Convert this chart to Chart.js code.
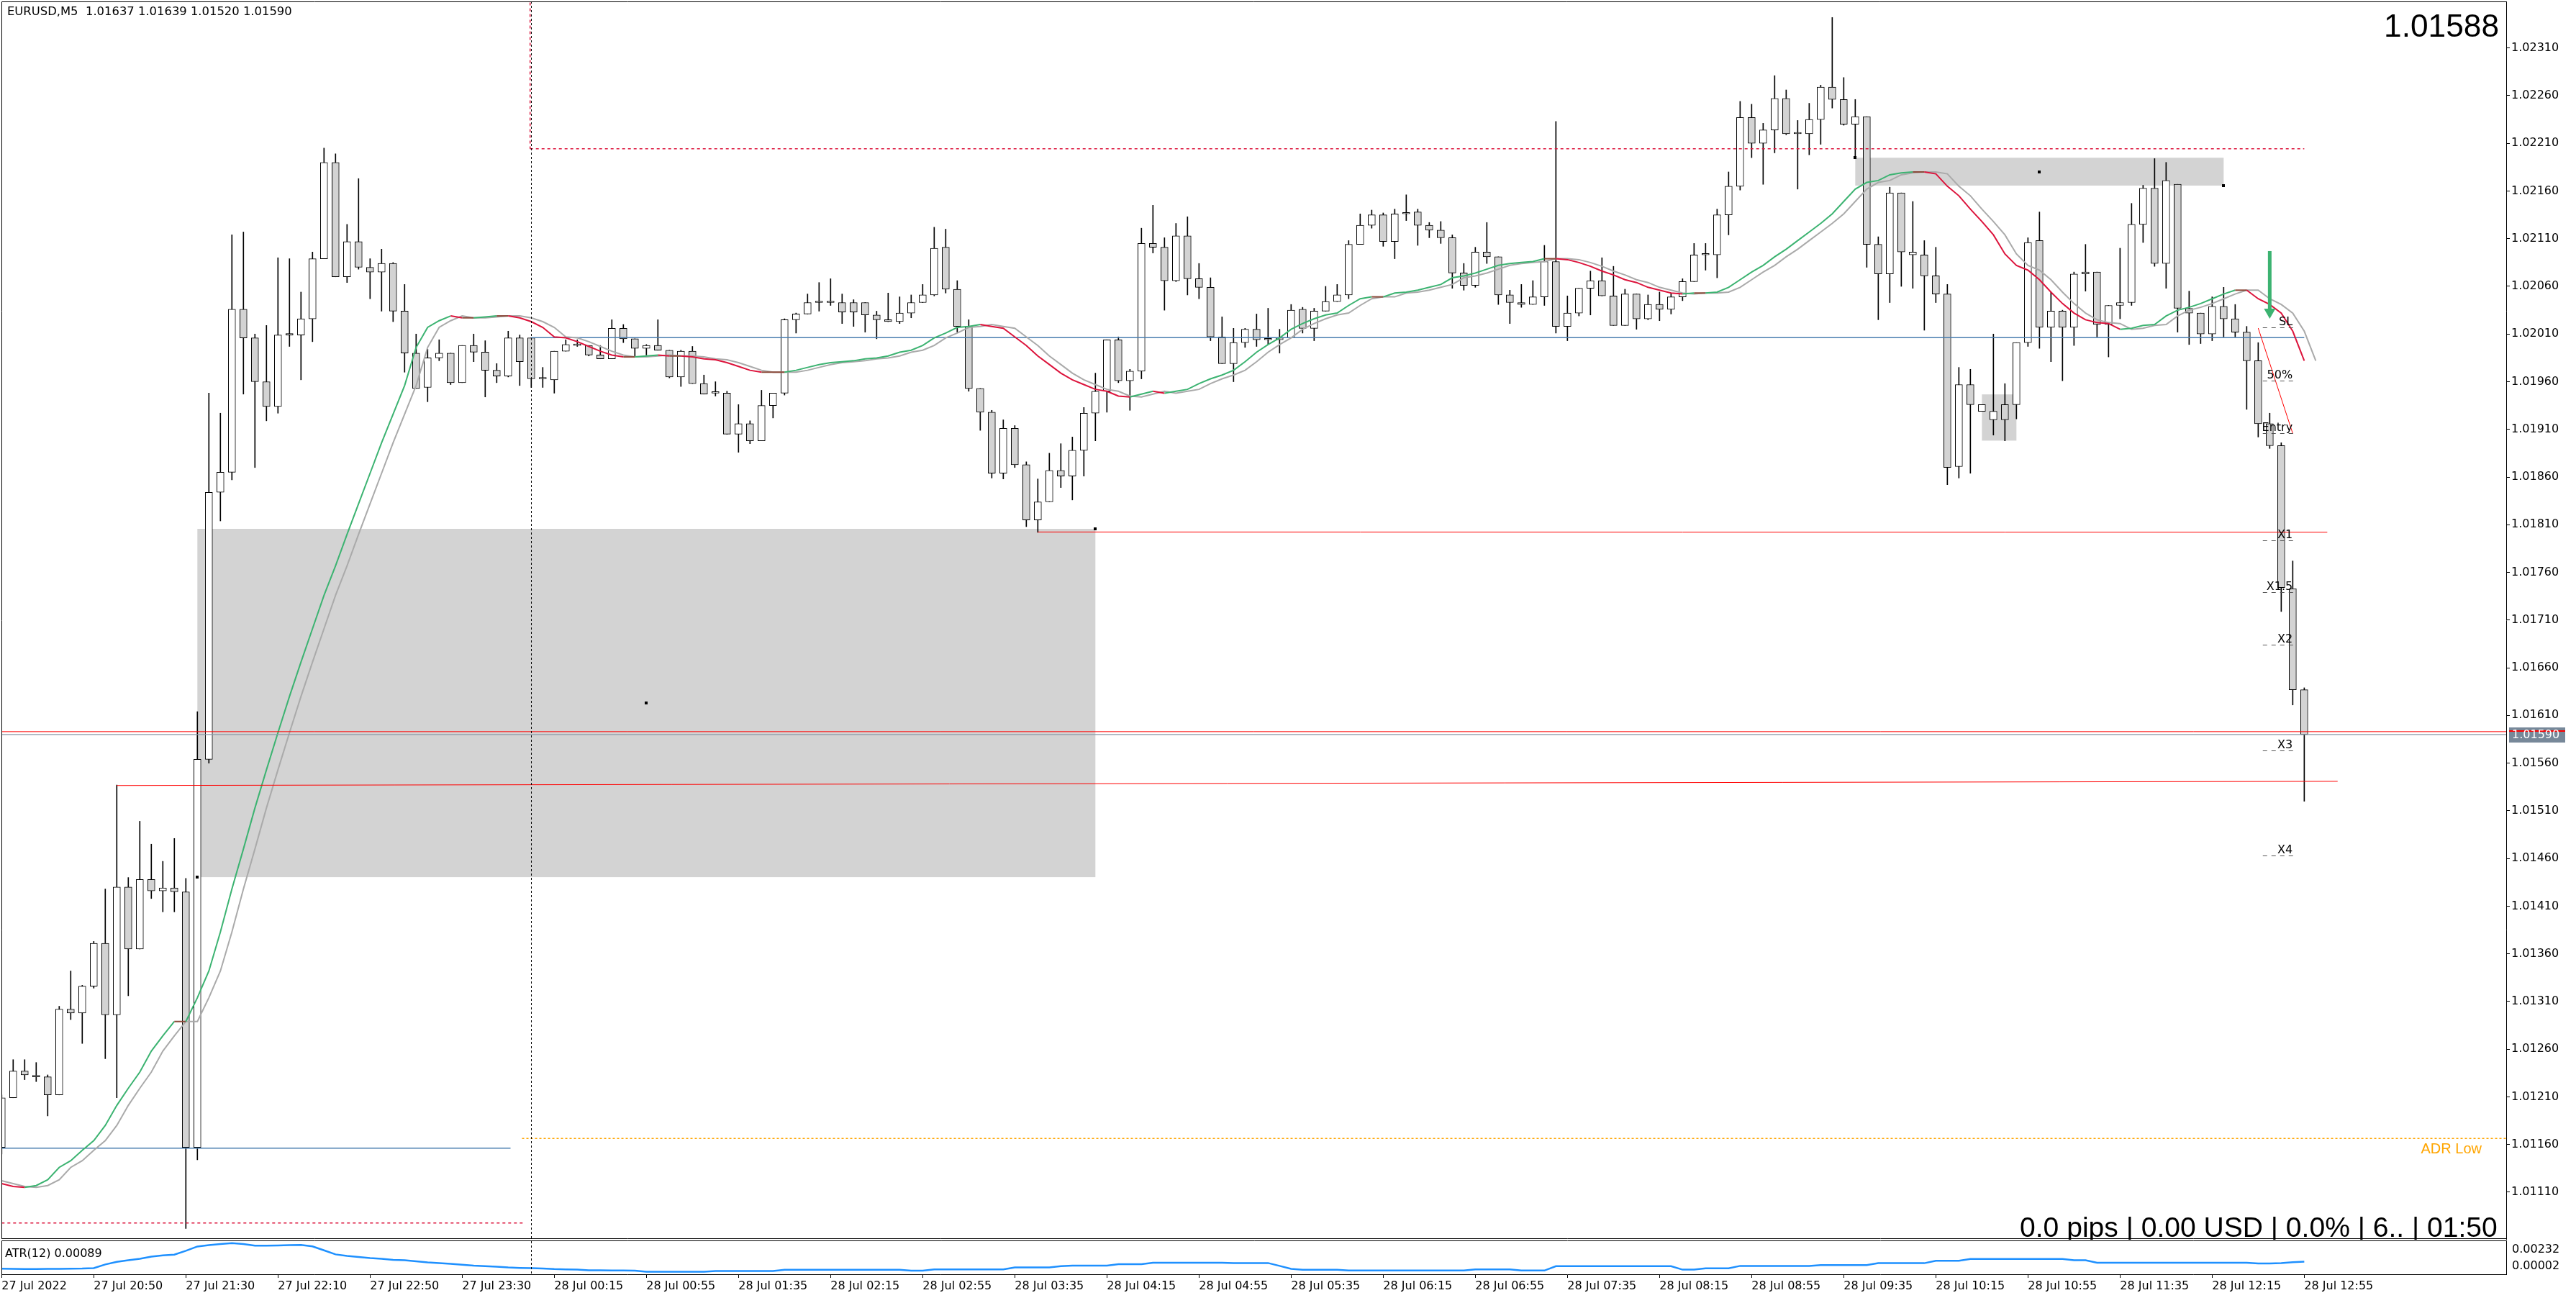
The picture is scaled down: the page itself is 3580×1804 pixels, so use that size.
<!DOCTYPE html>
<html><head><meta charset="utf-8">
<script src="https://cdn.jsdelivr.net/npm/chart.js@4.4.1/dist/chart.umd.min.js"></script>
<style>
html,body{margin:0;padding:0;background:#fff;width:3580px;height:1804px;overflow:hidden}
#main{position:absolute;left:0;top:0;width:3580px;height:1723px}
#atr{position:absolute;left:0;top:1723px;width:3580px;height:81px}
</style></head><body>
<canvas id="main" width="3580" height="1723"></canvas>
<canvas id="atr" width="3580" height="81"></canvas>
<script>
// ---------------- DATA ----------------
const SYMBOL_HEADER = "EURUSD,M5  1.01637 1.01639 1.01520 1.01590";
const BIG_PRICE = "1.01588";
const STATUS_TEXT = "0.0 pips | 0.00 USD | 0.0% | 6.. | 01:50";
const ATR_TITLE = "ATR(12) 0.00089";
const BID = 1.01590, ASK = 1.01593;

const opens = [1.01157,1.01209,1.01237,1.01231,1.01231,1.01212,1.01302,1.01298,1.01326,1.01371,
1.01296,1.01430,1.01365,1.01438,1.01426,1.01429,1.01425,1.01157,1.01564,1.01844,
1.01865,1.02036,1.02006,1.01960,1.01934,1.02009,1.02009,1.02026,1.02089,1.02190,
1.02070,1.02107,1.02080,1.02075,1.02084,1.02034,1.01990,1.01954,1.01985,1.01990,
1.01959,1.01998,1.01991,1.01972,1.01966,1.02006,1.02006,1.01963,1.01962,1.01992,
1.01999,1.01998,1.01988,1.01984,1.02016,1.02005,1.01995,1.01998,1.01993,1.01965,
1.01992,1.01958,1.01948,1.01948,1.01905,1.01916,1.01898,1.01935,1.01948,1.02025,
1.02031,1.02043,1.02043,1.02043,1.02043,1.02043,1.02030,1.02025,1.02023,1.02032,
1.02043,1.02051,1.02101,1.02057,1.02018,1.01953,1.01928,1.01864,1.01911,1.01873,
1.01815,1.01834,1.01867,1.01861,1.01888,1.01927,1.01950,1.02004,1.01961,1.01971,
1.02105,1.02101,1.02066,1.02113,1.02068,1.02059,1.02007,1.01979,1.02001,1.02015,
1.02004,1.02004,1.02006,1.02036,1.02016,1.02034,1.02044,1.02051,1.02104,1.02124,
1.02135,1.02107,1.02136,1.02138,1.02124,1.02119,1.02111,1.02074,1.02061,1.02096,
1.02091,1.02051,1.02043,1.02041,1.02049,1.02086,1.02018,1.02032,1.02058,1.02066,
1.02050,1.02019,1.02052,1.02026,1.02041,1.02036,1.02049,1.02065,1.02093,1.02093,
1.02135,1.02165,1.02237,1.02210,1.02224,1.02257,1.02220,1.02220,1.02235,1.02269,
1.02256,1.02230,1.02238,1.02104,1.02073,1.02158,1.02093,1.02093,1.02071,1.02052,
1.01871,1.01957,1.01929,1.01920,1.01936,1.01936,1.02001,1.02108,1.02017,1.02034,
1.02017,1.02073,1.02075,1.02020,1.02040,1.02043,1.02125,1.02163,1.02084,1.02167,
1.02037,1.02032,1.02010,1.02039,1.02026,1.02012,1.01982,1.01916,1.01893,1.01743,
1.01637];
const highs = [1.01212,1.01249,1.01249,1.01246,1.01233,1.01305,1.01342,1.01327,1.01373,1.01428,
1.01537,1.01440,1.01499,1.01475,1.01457,1.01481,1.01439,1.01614,1.01948,1.01927,
1.02114,1.02117,1.02010,1.02019,1.02090,1.02089,1.02054,1.02096,1.02205,1.02199,
1.02125,1.02173,1.02089,1.02099,1.02085,1.02062,1.02010,1.01994,1.02004,1.01990,
1.01998,1.02010,1.02003,1.01979,1.02013,1.02009,1.02006,1.01975,1.01992,1.02004,
1.02004,1.01998,1.01998,1.02025,1.02020,1.02005,1.01999,1.02025,1.01993,1.01993,
1.01997,1.01967,1.01960,1.01950,1.01936,1.01919,1.01951,1.01948,1.02026,1.02032,
1.02052,1.02064,1.02068,1.02052,1.02046,1.02043,1.02034,1.02053,1.02049,1.02051,
1.02062,1.02122,1.02120,1.02066,1.02025,1.01953,1.01930,1.01920,1.01914,1.01876,
1.01858,1.01885,1.01895,1.01902,1.01933,1.01969,1.02004,1.02007,1.01973,1.02121,
1.02145,1.02111,1.02126,1.02133,1.02084,1.02069,1.02028,1.02016,1.02016,1.02031,
1.02037,1.02015,1.02041,1.02038,1.02037,1.02060,1.02062,1.02108,1.02136,1.02140,
1.02137,1.02141,1.02156,1.02141,1.02127,1.02128,1.02114,1.02084,1.02101,1.02127,
1.02091,1.02056,1.02062,1.02066,1.02103,1.02233,1.02050,1.02058,1.02076,1.02090,
1.02081,1.02057,1.02052,1.02051,1.02054,1.02053,1.02068,1.02105,1.02105,1.02141,
1.02180,1.02254,1.02251,1.02231,1.02281,1.02266,1.02234,1.02252,1.02271,1.02342,
1.02279,1.02256,1.02238,1.02112,1.02164,1.02158,1.02149,1.02108,1.02101,1.02062,
1.01975,1.01973,1.01936,1.02010,1.01958,1.02001,1.02111,1.02138,1.02054,1.02035,
1.02075,1.02104,1.02075,1.02040,1.02100,1.02147,1.02166,1.02194,1.02190,1.02167,
1.02055,1.02032,1.02049,1.02059,1.02041,1.02018,1.02001,1.01927,1.01896,1.01772,
1.01639];
const lows = [1.01150,1.01209,1.01228,1.01226,1.01190,1.01212,1.01291,1.01266,1.01324,1.01250,
1.01209,1.01316,1.01365,1.01418,1.01404,1.01404,1.01072,1.01144,1.01560,1.01814,
1.01857,1.01947,1.01870,1.01919,1.01927,1.01997,1.01962,1.02002,1.02089,1.02070,
1.02064,1.02078,1.02047,1.02034,1.02023,1.01970,1.01953,1.01939,1.01982,1.01957,
1.01959,1.01981,1.01944,1.01959,1.01965,1.01956,1.01954,1.01954,1.01948,1.01992,
1.01997,1.01987,1.01984,1.01984,1.02001,1.01987,1.01988,1.01993,1.01964,1.01955,
1.01958,1.01947,1.01945,1.01905,1.01886,1.01895,1.01898,1.01922,1.01946,1.02011,
1.02031,1.02034,1.02040,1.02021,1.02018,1.02012,1.02005,1.02023,1.02021,1.02027,
1.02043,1.02050,1.02053,1.02012,1.01950,1.01909,1.01859,1.01858,1.01870,1.01808,
1.01802,1.01834,1.01849,1.01836,1.01861,1.01898,1.01928,1.01959,1.01930,1.01963,
1.02095,1.02035,1.02065,1.02051,1.02047,1.02003,1.01979,1.01960,1.01996,1.01997,
1.01999,1.01990,1.02006,1.02011,1.02003,1.02034,1.02044,1.02047,1.02104,1.02121,
1.02102,1.02089,1.02129,1.02103,1.02111,1.02105,1.02058,1.02056,1.02059,1.02084,
1.02041,1.02021,1.02038,1.02041,1.02040,1.02011,1.02003,1.02029,1.02030,1.02050,
1.02019,1.02019,1.02015,1.02025,1.02024,1.02031,1.02045,1.02065,1.02077,1.02069,
1.02114,1.02161,1.02195,1.02167,1.02200,1.02219,1.02162,1.02198,1.02209,1.02247,
1.02229,1.02195,1.02080,1.02025,1.02043,1.02060,1.02058,1.02014,1.02043,1.01852,
1.01859,1.01864,1.01929,1.01904,1.01898,1.01921,1.01997,1.01995,1.01981,1.01961,
1.01998,1.02055,1.02007,1.01986,1.02026,1.02040,1.02106,1.02081,1.02058,1.02012,
1.01999,1.02000,1.02003,1.02007,1.02007,1.01931,1.01902,1.01890,1.01719,1.01621,
1.01520];
const closes = [1.01209,1.01237,1.01233,1.01231,1.01212,1.01302,1.01298,1.01326,1.01371,1.01296,
1.01430,1.01365,1.01438,1.01426,1.01429,1.01425,1.01157,1.01564,1.01844,1.01865,
1.02036,1.02006,1.01960,1.01934,1.02009,1.02009,1.02026,1.02089,1.02190,1.02070,
1.02107,1.02080,1.02075,1.02084,1.02034,1.01990,1.01953,1.01985,1.01990,1.01959,
1.01998,1.01991,1.01972,1.01966,1.02006,1.01981,1.01963,1.01963,1.01992,1.01999,
1.01998,1.01988,1.01984,1.02016,1.02005,1.01995,1.01998,1.01993,1.01965,1.01992,
1.01958,1.01947,1.01948,1.01905,1.01916,1.01898,1.01935,1.01948,1.02025,1.02031,
1.02043,1.02043,1.02043,1.02033,1.02033,1.02030,1.02025,1.02023,1.02032,1.02043,
1.02051,1.02100,1.02057,1.02018,1.01953,1.01928,1.01864,1.01911,1.01873,1.01815,
1.01834,1.01867,1.01861,1.01888,1.01927,1.01950,1.02004,1.01961,1.01971,1.02105,
1.02101,1.02066,1.02113,1.02068,1.02059,1.02007,1.01979,1.02001,1.02015,1.02004,
1.02004,1.02006,1.02035,1.02016,1.02034,1.02044,1.02051,1.02104,1.02124,1.02135,
1.02107,1.02136,1.02136,1.02124,1.02119,1.02111,1.02074,1.02061,1.02096,1.02091,
1.02051,1.02043,1.02041,1.02049,1.02086,1.02018,1.02032,1.02058,1.02066,1.02050,
1.02019,1.02052,1.02026,1.02041,1.02036,1.02049,1.02065,1.02093,1.02093,1.02135,
1.02165,1.02237,1.02210,1.02224,1.02257,1.02220,1.02220,1.02235,1.02269,1.02256,
1.02230,1.02238,1.02104,1.02073,1.02158,1.02096,1.02096,1.02071,1.02052,1.01870,
1.01957,1.01936,1.01936,1.01929,1.01920,1.02001,1.02106,1.02017,1.02034,1.02017,
1.02073,1.02075,1.02020,1.02040,1.02043,1.02125,1.02163,1.02084,1.02171,1.02037,
1.02032,1.02010,1.02039,1.02026,1.02012,1.01982,1.01916,1.01893,1.01744,1.01637,
1.01590];

// coloured moving average (per bar) and the grey moving average (drawn one bar further right)
const maColour = [1.01119,1.01116,1.01115,1.01117,1.01123,1.01136,1.01143,1.01154,1.01164,1.01180,
1.01201,1.01219,1.01236,1.01258,1.01274,1.01289,1.01289,1.01314,1.01342,1.01383,
1.01428,1.01470,1.01513,1.01553,1.01592,1.01630,1.01666,1.01701,1.01736,1.01767,
1.01800,1.01832,1.01864,1.01896,1.01926,1.01956,1.01996,1.02017,1.02024,1.02029,
1.02027,1.02027,1.02028,1.02029,1.02029,1.02027,1.02023,1.02017,1.02007,1.02006,
1.02002,1.01997,1.01992,1.01988,1.01986,1.01986,1.01987,1.01988,1.01987,1.01987,
1.01986,1.01984,1.01983,1.01980,1.01976,1.01972,1.01970,1.01970,1.01970,1.01972,
1.01975,1.01978,1.01980,1.01981,1.01982,1.01984,1.01985,1.01987,1.01991,1.01993,
1.01998,1.02006,1.02011,1.02017,1.02018,1.02020,1.02018,1.02016,1.02007,1.01998,
1.01987,1.01978,1.01969,1.01962,1.01957,1.01952,1.01950,1.01945,1.01944,1.01947,
1.01950,1.01948,1.01950,1.01952,1.01958,1.01963,1.01967,1.01972,1.01981,1.01991,
1.01999,1.02006,1.02015,1.02021,1.02026,1.02030,1.02032,1.02040,1.02047,1.02049,
1.02049,1.02053,1.02054,1.02056,1.02059,1.02062,1.02069,1.02071,1.02074,1.02078,
1.02082,1.02084,1.02085,1.02086,1.02089,1.02089,1.02088,1.02085,1.02081,1.02076,
1.02072,1.02067,1.02064,1.02059,1.02056,1.02053,1.02052,1.02053,1.02053,1.02054,
1.02059,1.02067,1.02075,1.02082,1.02091,1.02099,1.02108,1.02117,1.02126,1.02136,
1.02149,1.02162,1.02169,1.02171,1.02177,1.02179,1.02180,1.02180,1.02178,1.02165,
1.02155,1.02141,1.02128,1.02114,1.02094,1.02082,1.02077,1.02067,1.02054,1.02042,
1.02032,1.02025,1.02022,1.02021,1.02015,1.02016,1.02019,1.02020,1.02029,1.02035,
1.02038,1.02042,1.02047,1.02052,1.02056,1.02056,1.02047,1.02041,1.02032,1.02013,
1.01982];
const maGrey = [1.01122,1.01119,1.01116,1.01115,1.01117,1.01123,1.01136,1.01143,1.01154,1.01164,1.01180,
1.01201,1.01219,1.01236,1.01258,1.01274,1.01289,1.01289,1.01314,1.01342,1.01383,
1.01428,1.01470,1.01513,1.01553,1.01592,1.01630,1.01666,1.01701,1.01736,1.01767,
1.01800,1.01832,1.01864,1.01896,1.01926,1.01956,1.01996,1.02017,1.02024,1.02029,
1.02027,1.02027,1.02028,1.02029,1.02029,1.02027,1.02023,1.02017,1.02007,1.02006,
1.02002,1.01997,1.01992,1.01988,1.01986,1.01986,1.01987,1.01988,1.01987,1.01987,
1.01986,1.01984,1.01983,1.01980,1.01976,1.01972,1.01970,1.01970,1.01970,1.01972,
1.01975,1.01978,1.01980,1.01981,1.01982,1.01984,1.01985,1.01987,1.01991,1.01993,
1.01998,1.02006,1.02011,1.02017,1.02018,1.02020,1.02018,1.02016,1.02007,1.01998,
1.01987,1.01978,1.01969,1.01962,1.01957,1.01952,1.01950,1.01945,1.01944,1.01947,
1.01950,1.01948,1.01950,1.01952,1.01958,1.01963,1.01967,1.01972,1.01981,1.01991,
1.01999,1.02006,1.02015,1.02021,1.02026,1.02030,1.02032,1.02040,1.02047,1.02049,
1.02049,1.02053,1.02054,1.02056,1.02059,1.02062,1.02069,1.02071,1.02074,1.02078,
1.02082,1.02084,1.02085,1.02086,1.02089,1.02089,1.02088,1.02085,1.02081,1.02076,
1.02072,1.02067,1.02064,1.02059,1.02056,1.02053,1.02052,1.02053,1.02053,1.02054,
1.02059,1.02067,1.02075,1.02082,1.02091,1.02099,1.02108,1.02117,1.02126,1.02136,
1.02149,1.02162,1.02169,1.02171,1.02177,1.02179,1.02180,1.02180,1.02178,1.02165,
1.02155,1.02141,1.02128,1.02114,1.02094,1.02082,1.02077,1.02067,1.02054,1.02042,
1.02032,1.02025,1.02022,1.02021,1.02015,1.02016,1.02019,1.02020,1.02029,1.02035,
1.02038,1.02042,1.02047,1.02052,1.02056,1.02056,1.02047,1.02041,1.02032,1.02013,
1.01982];

const atrValues = [0.00041,0.00039,0.00038,0.00038,0.00039,0.00040,0.00041,0.00042,0.00045,0.00070,
0.00088,0.00100,0.00110,0.00125,0.00133,0.00138,0.00165,0.00195,0.00205,0.00212,
0.00218,0.00212,0.00201,0.00201,0.00202,0.00204,0.00206,0.00196,0.00168,0.00140,
0.00130,0.00122,0.00114,0.00110,0.00102,0.00099,0.00092,0.00085,0.00080,0.00075,
0.00068,0.00062,0.00058,0.00054,0.00049,0.00046,0.00044,0.00042,0.00038,0.00036,
0.00034,0.00030,0.00029,0.00028,0.00028,0.00027,0.00020,0.00019,0.00019,0.00019,
0.00019,0.00020,0.00024,0.00024,0.00024,0.00024,0.00024,0.00024,0.00033,0.00033,
0.00033,0.00033,0.00033,0.00033,0.00033,0.00033,0.00033,0.00033,0.00033,0.00027,
0.00027,0.00036,0.00036,0.00036,0.00036,0.00036,0.00036,0.00036,0.00050,0.00050,
0.00050,0.00050,0.00058,0.00062,0.00062,0.00062,0.00062,0.00072,0.00072,0.00072,
0.00082,0.00082,0.00082,0.00082,0.00082,0.00082,0.00082,0.00080,0.00080,0.00080,
0.00080,0.00060,0.00040,0.00033,0.00033,0.00033,0.00033,0.00028,0.00028,0.00028,
0.00028,0.00028,0.00028,0.00028,0.00028,0.00028,0.00028,0.00028,0.00036,0.00036,
0.00036,0.00036,0.00028,0.00028,0.00028,0.00058,0.00058,0.00058,0.00058,0.00058,
0.00058,0.00058,0.00058,0.00058,0.00058,0.00058,0.00034,0.00034,0.00043,0.00043,
0.00043,0.00060,0.00060,0.00060,0.00060,0.00060,0.00060,0.00060,0.00066,0.00066,
0.00066,0.00066,0.00066,0.00079,0.00079,0.00079,0.00079,0.00079,0.00096,0.00096,
0.00096,0.00108,0.00108,0.00108,0.00108,0.00108,0.00108,0.00108,0.00108,0.00108,
0.00099,0.00099,0.00082,0.00082,0.00082,0.00082,0.00082,0.00082,0.00082,0.00082,
0.00082,0.00082,0.00082,0.00082,0.00082,0.00082,0.00077,0.00077,0.00080,0.00086,
0.00089];

const priceTickLabels = ["1.01110","1.01160","1.01210","1.01260","1.01310","1.01360","1.01410","1.01460",
"1.01510","1.01560","1.01610","1.01660","1.01710","1.01760","1.01810","1.01860","1.01910","1.01960",
"1.02010","1.02060","1.02110","1.02160","1.02210","1.02260","1.02310"];
const atrTickLabels = ["0.00232","0.00002"];
const timeTickBars = [0,8,16,24,32,40,48,56,64,72,80,88,96,104,112,120,128,136,144,152,160,168,176,184,192,200];
const timeTickLabels = ["27 Jul 2022","27 Jul 20:50","27 Jul 21:30","27 Jul 22:10","27 Jul 22:50","27 Jul 23:30",
"28 Jul 00:15","28 Jul 00:55","28 Jul 01:35","28 Jul 02:15","28 Jul 02:55","28 Jul 03:35","28 Jul 04:15",
"28 Jul 04:55","28 Jul 05:35","28 Jul 06:15","28 Jul 06:55","28 Jul 07:35","28 Jul 08:15","28 Jul 08:55",
"28 Jul 09:35","28 Jul 10:15","28 Jul 10:55","28 Jul 11:35","28 Jul 12:15","28 Jul 12:55"];

// zones (bar from, bar to, high price, low price)
const zoneFrom = [17, 161, 172];
const zoneTo   = [95, 193, 175];
const zoneHigh = [1.018057, 1.021949, 1.019467];
const zoneLow  = [1.014404, 1.021657, 1.018982];

// horizontal / trend lines: [bar, price] pairs
const dayOpenLine   = [[46, 1.020062], [200, 1.020062]];
const prevOpenLine  = [[-1, 1.011561], [44.2, 1.011561]];
const askLine       = [[-1, 1.01593], [220, 1.01593]];
const bidLine       = [[-1, 1.01590], [220, 1.01590]];
const trendLine     = [[10, 1.015365], [202.9, 1.015409]];
const supportLine   = [[90, 1.018024], [202, 1.018022]];
const dayHighLine   = [[45.9, 1.022043], [200, 1.022043]];
const dayHighDrop   = [[45.9, 1.0240], [45.9, 1.022043]];
const dayLowLine    = [[-1, 1.010777], [45.3, 1.010777]];
const adrLowLine    = [[45.2, 1.011664], [220, 1.011664]];
const entryDiagonal = [[196, 1.020162], [199, 1.019057]];

const separatorBar = 46;
const levelNames  = ["SL","50%","Entry","X1","X1.5","X2","X3","X4"];
const levelPrices = [1.02017,1.01961,1.01906,1.01794,1.01739,1.01684,1.01573,1.01463];
const arrowBar = 197, arrowTop = 1.02097, arrowTip = 1.02026;

// ---------------- CHARTS ----------------
const X_MIN = -0.01875, X_MAX = 217.54;
const Y_MIN = 1.0106091, Y_MAX = 1.0235882;
const FONT = "'DejaVu Sans', sans-serif";
Chart.defaults.font.family = FONT;

const idx = opens.map((_, i) => i);
const toXY = arr => arr.map(p => ({x: p[0], y: p[1]}));
function lineDs(pts, color, width, dash, order) {
  return {type: 'line', data: toXY(pts), borderColor: color, borderWidth: width, borderDash: dash || [],
          pointRadius: 0, fill: false, tension: 0, order: order || 3};
}

function fitFont(ctx, text, family, targetW) {
  ctx.font = `100px ${family}`;
  const w = ctx.measureText(text).width;
  ctx.font = `${(100 * targetW / w).toFixed(2)}px ${family}`;
}

const mainOverlay = {
  id: 'mainOverlay',
  beforeDatasetsDraw(chart) {
    const {ctx, chartArea: a, scales: {x, y}} = chart;
    ctx.save();
    ctx.beginPath(); ctx.rect(a.left, a.top, a.right - a.left, a.bottom - a.top); ctx.clip();
    ctx.fillStyle = '#d3d3d3';
    for (let k = 0; k < zoneFrom.length; k++) {
      const x0 = x.getPixelForValue(zoneFrom[k]), x1 = x.getPixelForValue(zoneTo[k]);
      const y0 = y.getPixelForValue(zoneHigh[k]), y1 = y.getPixelForValue(zoneLow[k]);
      ctx.fillRect(x0, y0, x1 - x0, y1 - y0);
    }
    ctx.restore();
  },
  afterDatasetsDraw(chart) {
    const {ctx, chartArea: a, scales: {x, y}} = chart;
    ctx.save();
    ctx.fillStyle = '#000';
    const dot = (b, p) => ctx.fillRect(Math.round(x.getPixelForValue(b)) - 2, Math.round(y.getPixelForValue(p)) - 2, 4, 4);
    dot(zoneFrom[0], zoneLow[0]); dot(zoneTo[0], zoneHigh[0]);
    dot((zoneFrom[0] + zoneTo[0]) / 2, (zoneHigh[0] + zoneLow[0]) / 2);
    dot(zoneFrom[1], zoneHigh[1]); dot(zoneTo[1], zoneLow[1]);
    dot((zoneFrom[1] + zoneTo[1]) / 2, (zoneHigh[1] + zoneLow[1]) / 2);
    const sx = Math.round(x.getPixelForValue(separatorBar)) + 0.5;
    ctx.strokeStyle = '#000'; ctx.lineWidth = 1; ctx.setLineDash([3, 3]);
    ctx.beginPath(); ctx.moveTo(sx, a.top); ctx.lineTo(sx, a.bottom); ctx.stroke();
    ctx.setLineDash([6, 6]); ctx.strokeStyle = '#555';
    ctx.font = `16px ${FONT}`; ctx.fillStyle = '#000'; ctx.textAlign = 'right'; ctx.textBaseline = 'alphabetic';
    const lx0 = x.getPixelForValue(196.4), lx1 = x.getPixelForValue(199.05);
    levelPrices.forEach((p, k) => {
      const ly = Math.round(y.getPixelForValue(p)) + 0.5;
      ctx.beginPath(); ctx.moveTo(lx0, ly); ctx.lineTo(lx1, ly); ctx.stroke();
      ctx.fillText(levelNames[k], lx1 - 1, ly - 4);
    });
    ctx.setLineDash([]);
    const ax = x.getPixelForValue(arrowBar), ay0 = y.getPixelForValue(arrowTop), ay1 = y.getPixelForValue(arrowTip);
    ctx.fillStyle = '#3cb371';
    ctx.fillRect(ax - 2.5, ay0, 5, ay1 - ay0 - 13);
    ctx.beginPath(); ctx.moveTo(ax - 8, ay1 - 14); ctx.lineTo(ax + 8, ay1 - 14); ctx.lineTo(ax, ay1); ctx.closePath(); ctx.fill();
    ctx.restore();
  },
  afterDraw(chart) {
    const {ctx, chartArea: a, scales: {y}} = chart;
    ctx.save();
    ctx.strokeStyle = '#000'; ctx.lineWidth = 1;
    ctx.beginPath();
    ctx.moveTo(a.left + 0.5, a.bottom); ctx.lineTo(a.left + 0.5, a.top + 0.5); ctx.lineTo(a.right, a.top + 0.5);
    ctx.moveTo(a.left, a.bottom - 0.5); ctx.lineTo(a.right + 1, a.bottom - 0.5);
    ctx.stroke();
    const by = y.getPixelForValue(BID), ay = y.getPixelForValue(ASK);
    ctx.fillStyle = '#778899'; ctx.fillRect(a.right + 4, Math.round(by) - 10, 78, 21);
    ctx.fillStyle = '#ff0000'; ctx.fillRect(a.right + 4, Math.round(ay) - 2, 78, 2);
    ctx.fillStyle = '#ffffff'; ctx.font = `16px ${FONT}`; ctx.textAlign = 'left'; ctx.textBaseline = 'middle';
    ctx.fillText(BID.toFixed(5), a.right + 8, Math.round(by) + 1);
    ctx.fillStyle = '#000'; ctx.textBaseline = 'alphabetic'; ctx.textAlign = 'left';
    fitFont(ctx, SYMBOL_HEADER, FONT, 396);
    ctx.fillText(SYMBOL_HEADER, 10, 21);
    fitFont(ctx, BIG_PRICE, "'Liberation Sans', Arial, sans-serif", 160);
    ctx.textAlign = 'right'; ctx.fillText(BIG_PRICE, 3473, 51);
    fitFont(ctx, STATUS_TEXT, "'Liberation Sans', Arial, sans-serif", 664);
    ctx.textAlign = 'left'; ctx.fillText(STATUS_TEXT, 2807, 1719);
    ctx.fillStyle = '#ffa500'; ctx.font = `20px 'Liberation Sans', Arial, sans-serif`; ctx.textAlign = 'right';
    ctx.fillText('ADR Low', 3449, y.getPixelForValue(adrLowLine[0][1]) + 21);
    ctx.restore();
  }
};

const maColourSeg = c => {
  const d = c.p1.parsed.y - c.p0.parsed.y;
  return d > 0.000004 ? '#3cb371' : (d < -0.000004 ? '#dc143c' : '#8b4a3a');
};

new Chart(document.getElementById('main'), {
  type: 'bar',
  data: {
    datasets: [
      {type: 'bar', data: idx.map(i => ({x: i, y: [lows[i], highs[i]]})), backgroundColor: '#000', borderWidth: 0,
       barThickness: 1, grouped: false, order: 20},
      {type: 'bar', data: idx.map(i => ({x: i, y: [opens[i], closes[i]]})),
       backgroundColor: idx.map(i => closes[i] > opens[i] ? '#ffffff' : '#d3d3d3'),
       borderColor: '#000', borderWidth: 1, borderSkipped: false, barThickness: 10, minBarLength: 2,
       grouped: false, order: 19},
      lineDs(dayOpenLine, '#4a7fb0', 1.5, null, 6),
      lineDs(prevOpenLine, '#4a7fb0', 1.5, null, 6),
      lineDs(dayHighLine, '#dc143c', 1.5, [4, 4], 6),
      lineDs(dayHighDrop, '#dc143c', 1.5, [4, 4], 6),
      lineDs(dayLowLine, '#dc143c', 1.5, [4, 4], 6),
      lineDs(adrLowLine, '#ffa500', 1.5, [3, 3], 6),
      {type: 'line', data: maGrey.map((v, i) => ({x: i, y: v})), borderColor: '#aaaaaa', borderWidth: 2,
       pointRadius: 0, fill: false, tension: 0, order: 5},
      {type: 'line', data: maColour.map((v, i) => ({x: i, y: v})), borderColor: '#3cb371', borderWidth: 2,
       segment: {borderColor: maColourSeg}, pointRadius: 0, fill: false, tension: 0, order: 4},
      lineDs(trendLine, '#ff0000', 1, null, 3),
      lineDs(supportLine, '#ff0000', 1, null, 3),
      lineDs(entryDiagonal, '#ff0000', 1, null, 3),
      lineDs(bidLine, '#8c9aa8', 1.2, null, 2),
      lineDs(askLine, '#ff0000', 1, null, 2)
    ]
  },
  options: {
    responsive: false, animation: false, devicePixelRatio: 1, events: [],
    layout: {padding: {left: 2, top: 2, right: 0, bottom: 1}},
    plugins: {legend: {display: false}, tooltip: {enabled: false}, title: {display: false}},
    scales: {
      x: {type: 'linear', display: false, min: X_MIN, max: X_MAX, offset: false, grid: {display: false}},
      y: {type: 'linear', position: 'right', min: Y_MIN, max: Y_MAX,
          afterBuildTicks: s => { s.ticks = priceTickLabels.map(t => ({value: parseFloat(t)})); },
          afterFit: s => { s.width = 97; s.paddingTop = 0; s.paddingBottom = 0; },
          ticks: {callback: v => v.toFixed(5), font: {family: FONT, size: 16}, color: '#000', padding: 2,
                  autoSkip: false, crossAlign: 'near'},
          grid: {drawOnChartArea: false, drawTicks: true, tickLength: 5, tickColor: '#000', tickWidth: 1},
          border: {display: true, color: '#000', width: 1}}
    }
  },
  plugins: [mainOverlay]
});

const atrOverlay = {
  id: 'atrOverlay',
  afterDraw(chart) {
    const {ctx, chartArea: a, scales: {x}} = chart;
    ctx.save();
    ctx.strokeStyle = '#000'; ctx.lineWidth = 1;
    ctx.beginPath();
    ctx.moveTo(a.left + 0.5, a.bottom); ctx.lineTo(a.left + 0.5, 1.5); ctx.lineTo(a.right + 1, 1.5);
    ctx.stroke();
    const sx = Math.round(x.getPixelForValue(separatorBar)) + 0.5;
    ctx.setLineDash([3, 3]);
    ctx.beginPath(); ctx.moveTo(sx, 2); ctx.lineTo(sx, a.bottom); ctx.stroke();
    ctx.setLineDash([]);
    ctx.fillStyle = '#000'; ctx.font = `16px ${FONT}`; ctx.textAlign = 'left'; ctx.textBaseline = 'alphabetic';
    ctx.fillText(ATR_TITLE, 7, 24);
    ctx.fillText(atrTickLabels[0], a.right + 8, 18);
    ctx.fillText(atrTickLabels[1], a.right + 8, 41);
    ctx.restore();
  }
};

new Chart(document.getElementById('atr'), {
  type: 'line',
  data: {datasets: [{data: atrValues.map((v, i) => ({x: i, y: v})), borderColor: '#1e90ff', borderWidth: 2.5,
                     pointRadius: 0, fill: false, tension: 0}]},
  options: {
    responsive: false, animation: false, devicePixelRatio: 1, events: [],
    layout: {padding: {left: 2, top: 2, right: 0, bottom: 0}},
    plugins: {legend: {display: false}, tooltip: {enabled: false}},
    scales: {
      x: {type: 'linear', position: 'bottom', min: X_MIN, max: X_MAX, offset: false,
          afterBuildTicks: s => { s.ticks = timeTickBars.map(v => ({value: v})); },
          afterFit: s => { s.height = 33; s.paddingLeft = 0; s.paddingRight = 0; },
          ticks: {callback: (v, i) => timeTickLabels[i], align: 'start', maxRotation: 0, minRotation: 0,
                  autoSkip: false, font: {family: FONT, size: 16}, color: '#000', padding: 2},
          grid: {drawOnChartArea: false, drawTicks: true, tickLength: 5, tickColor: '#000'},
          border: {display: true, color: '#000', width: 1}},
      y: {type: 'linear', position: 'right', min: parseFloat(atrTickLabels[1]), max: parseFloat(atrTickLabels[0]),
          afterFit: s => { s.width = 97; s.paddingTop = 0; s.paddingBottom = 0; },
          ticks: {display: false},
          grid: {drawOnChartArea: false, drawTicks: false},
          border: {display: true, color: '#000', width: 1}}
    }
  },
  plugins: [atrOverlay]
});
</script>
</body></html>
